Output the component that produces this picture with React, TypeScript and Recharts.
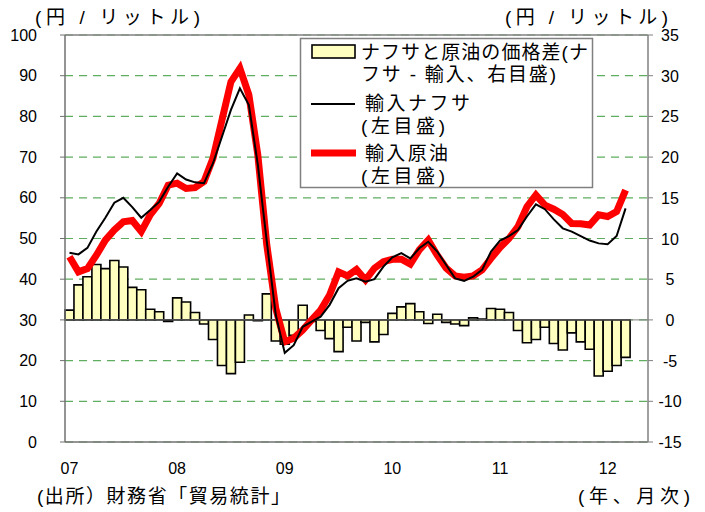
import React from 'react';
import { ComposedChart, Bar, Line, XAxis, YAxis, CartesianGrid, ReferenceLine } from 'recharts';

// 2007/01 - 2012/05 (data through 2012/03)
const months: string[] = [];
for (let y = 2007; y <= 2012; y++) {
  for (let m = 1; m <= 12; m++) {
    if (y === 2012 && m > 5) break;
    months.push(`${y}-${String(m).padStart(2, '0')}`);
  }
}

const yearTicks = ['2007-01', '2008-01', '2009-01', '2010-01', '2011-01', '2012-01'];

// 輸入ナフサ (円/リットル, 左目盛)
const naphtha = [
  46.5, 46.1, 47.7, 51.7, 55.1, 58.8, 60.0, 57.7, 55.1, 57.0, 59.0, 62.7,
  66.0, 64.5, 63.8, 63.6, 68.5, 75.0, 81.6, 86.9, 82.8, 68.1, 49.2, 31.2,
  21.9, 23.8, 28.3, 29.6, 30.8, 33.7, 37.8, 39.6, 40.2, 39.4, 40.0, 43.1,
  45.4, 46.4, 45.1, 47.6, 49.2, 46.8, 43.5, 40.2, 39.6, 40.6, 42.3, 46.8,
  49.5, 50.6, 52.1, 55.4, 58.4, 57.2, 54.7, 52.5, 51.7, 50.6, 49.5, 48.8,
  48.6, 50.6, 57.4,
];

// 輸入原油 (円/リットル, 左目盛)
const crude = [
  45.5, 41.8, 42.6, 45.9, 49.6, 52.1, 54.1, 54.4, 51.7, 55.8, 58.6, 63.1,
  63.6, 62.3, 62.5, 64.0, 69.7, 79.1, 88.5, 91.8, 85.3, 70.5, 48.4, 32.8,
  24.6, 25.5, 27.5, 30.0, 32.4, 36.1, 41.8, 40.8, 42.4, 39.8, 42.7, 44.3,
  44.9, 44.9, 43.7, 47.2, 49.6, 45.9, 42.7, 40.8, 40.5, 40.8, 42.3, 45.1,
  47.8, 50.0, 52.9, 57.8, 60.7, 58.2, 57.2, 55.9, 53.7, 53.6, 53.3, 55.8,
  55.4, 56.6, 61.9,
];

// ナフサと原油の価格差 (ナフサ - 輸入, 右目盛)
const spread = [
  1.2, 4.3, 5.3, 6.8, 6.3, 7.3, 6.5, 4.0, 3.7, 1.3, 1.0, -0.2,
  2.7, 2.2, 0.9, -0.5, -2.4, -5.6, -6.6, -5.2, 0.6, -0.1, 3.2, -2.6,
  -3.0, -1.9, 1.8, -0.2, -1.3, -2.3, -3.9, -0.9, -2.6, -0.3, -2.7, -1.8,
  0.8, 1.6, 2.0, 1.0, -0.45, 0.7, -0.3, -0.5, -0.7, 0.25, 0.1, 1.4,
  1.3, 0.9, -1.3, -2.8, -2.4, -0.9, -2.9, -3.7, -1.6, -2.7, -3.6, -6.9,
  -6.3, -5.6, -4.6,
];

const leftTicks = [0, 10, 20, 30, 40, 50, 60, 70, 80, 90, 100];
const rightTicks = [-15, -10, -5, 0, 5, 10, 15, 20, 25, 30, 35];

const data = months.map((month, i) => ({
  month,
  naphtha: i < naphtha.length ? naphtha[i] : null,
  crude: i < crude.length ? crude[i] : null,
  spread: i < spread.length ? spread[i] : null,
}));

const latin = "'Liberation Sans', Arial, sans-serif";
const jp = "'Liberation Sans', 'Noto Sans CJK JP', sans-serif";

const RightTick = (props: any) => {
  const { y, payload } = props;
  return (
    <text x={670} y={y} dy={6} textAnchor="middle" fontSize={16} fontFamily={latin} fill="#000">
      {payload.value}
    </text>
  );
};

export default function App() {
  return (
    <div style={{ position: 'absolute', left: 0, top: 0, width: 705, height: 512, background: '#fff' }}>
      <ComposedChart
        width={705}
        height={512}
        data={data}
        margin={{ top: 35, right: 12, left: 20, bottom: 40 }}
        barCategoryGap={0}
        barGap={0}
      >
        <CartesianGrid yAxisId="left" vertical={false} stroke="#5FAD5F" strokeDasharray="8 6" strokeWidth={1.2} />
        <XAxis
          dataKey="month"
          ticks={yearTicks}
          interval={0}
          tickFormatter={(v: string) => v.slice(2, 4)}
          tickLine={false}
          axisLine={{ stroke: '#707070', strokeWidth: 1.5 }}
          tick={{ fill: '#000', fontSize: 16, fontFamily: latin }}
          tickMargin={15}
          height={30}
        />
        <YAxis
          yAxisId="left"
          domain={[0, 100]}
          ticks={leftTicks}
          interval={0}
          width={45}
          tickSize={5}
          tickMargin={23}
          axisLine={{ stroke: '#707070', strokeWidth: 1.5 }}
          tickLine={{ stroke: '#707070' }}
          tick={{ fill: '#000', fontSize: 16, fontFamily: latin }}
        />
        <YAxis
          yAxisId="right"
          orientation="right"
          domain={[-15, 35]}
          ticks={rightTicks}
          interval={0}
          width={45}
          tickSize={5}
          axisLine={{ stroke: '#808080', strokeWidth: 1.5 }}
          tickLine={{ stroke: '#808080' }}
          tick={<RightTick />}
        />
        <ReferenceLine yAxisId="left" y={100} stroke="#808080" strokeWidth={1.5} />
        <ReferenceLine yAxisId="right" y={0} stroke="#808080" strokeWidth={1} />
        <Bar
          yAxisId="right"
          dataKey="spread"
          fill="#FFFFC0"
          stroke="#000"
          strokeWidth={1.6}
          isAnimationActive={false}
        />
        <Line
          yAxisId="left"
          type="linear"
          dataKey="crude"
          stroke="#FF0000"
          strokeWidth={7}
          dot={false}
          isAnimationActive={false}
        />
        <Line
          yAxisId="left"
          type="linear"
          dataKey="naphtha"
          stroke="#000"
          strokeWidth={2}
          dot={false}
          isAnimationActive={false}
        />
      </ComposedChart>

      <svg
        width={705}
        height={512}
        style={{ position: 'absolute', left: 0, top: 0, pointerEvents: 'none' }}
        fontFamily={jp}
        fontSize={19}
      >
        <text x={35} y={24} textLength={165} lengthAdjust="spacing">(円 / リットル)</text>
        <text x={505} y={24} textLength={163} lengthAdjust="spacing">(円 / リットル)</text>
        <text x={37} y={503} textLength={253} lengthAdjust="spacing">(出所）財務省「貿易統計」</text>
        <text x={578} y={503} textLength={112} lengthAdjust="spacing">(年、月次)</text>

        <rect x={300.5} y={38.5} width={292} height={149} fill="#fff" stroke="#808080" strokeWidth={1.5} />
        <rect x={312} y={45} width={43} height={13} fill="#FFFFC0" stroke="#000" strokeWidth={1.6} />
        <text x={361} y={59} textLength={227} lengthAdjust="spacing">ナフサと原油の価格差(ナ</text>
        <text x={361} y={81} textLength={195} lengthAdjust="spacing">フサ - 輸入、右目盛)</text>
        <line x1={311} y1={104} x2={355} y2={104} stroke="#000" strokeWidth={2} />
        <text x={365} y={110} textLength={105} lengthAdjust="spacing">輸入ナフサ</text>
        <text x={361} y={133} textLength={84} lengthAdjust="spacing">(左目盛)</text>
        <line x1={311} y1={153} x2={356} y2={153} stroke="#FF0000" strokeWidth={7} />
        <text x={365} y={160} textLength={83} lengthAdjust="spacing">輸入原油</text>
        <text x={361} y={183} textLength={84} lengthAdjust="spacing">(左目盛)</text>
      </svg>
    </div>
  );
}
